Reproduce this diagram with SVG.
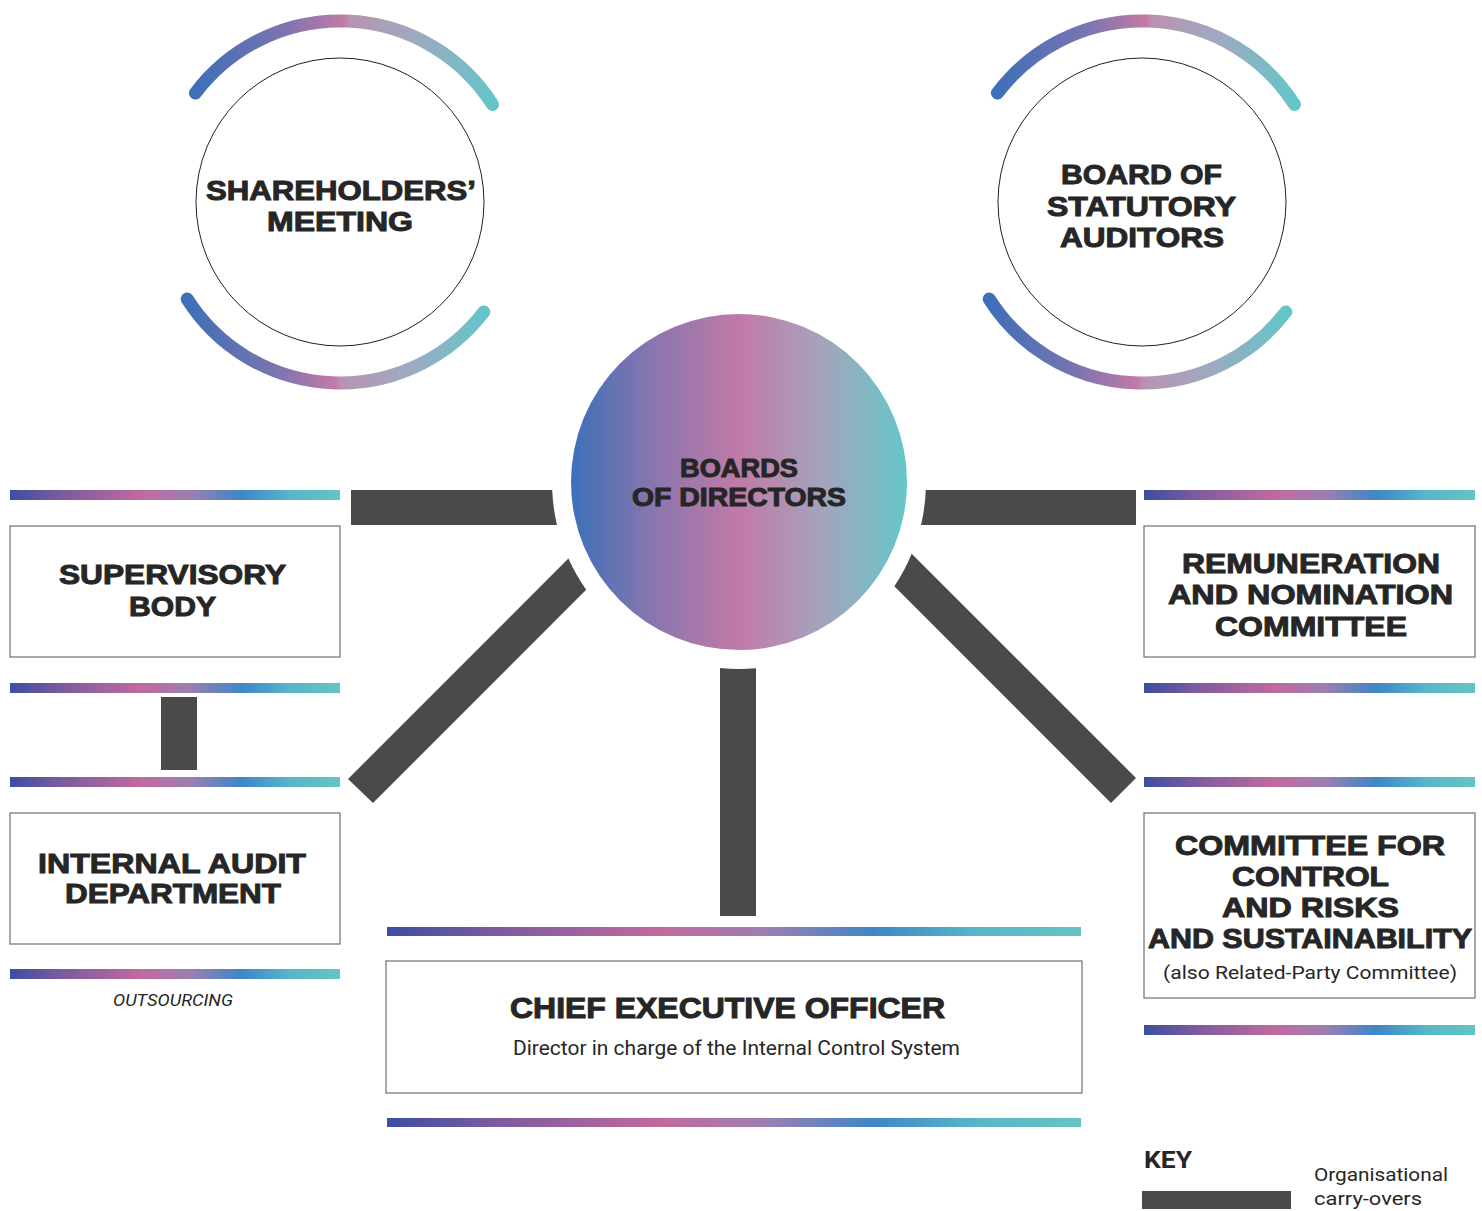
<svg xmlns="http://www.w3.org/2000/svg" width="1482" height="1211" viewBox="0 0 1482 1211">
<defs>
<linearGradient id="arcG" x1="0" y1="0" x2="1" y2="0">
<stop offset="0" stop-color="#3e6fb8"/><stop offset="0.3" stop-color="#7b74b0"/><stop offset="0.5" stop-color="#c27aa6"/><stop offset="0.52" stop-color="#b893b1"/><stop offset="0.75" stop-color="#9eaac0"/><stop offset="1" stop-color="#64c5c8"/>
</linearGradient>
<linearGradient id="bodG" x1="0" y1="0" x2="1" y2="0">
<stop offset="0" stop-color="#3d70b9"/><stop offset="0.25" stop-color="#8a76ae"/><stop offset="0.5" stop-color="#c17aa7"/><stop offset="0.75" stop-color="#a4a4bc"/><stop offset="1" stop-color="#64c7c9"/>
</linearGradient>
<linearGradient id="barG" x1="0" y1="0" x2="1" y2="0">
<stop offset="0" stop-color="#3b4f9f"/><stop offset="0.15" stop-color="#7a5a9e"/><stop offset="0.4" stop-color="#c26a9e"/><stop offset="0.55" stop-color="#9a7fb2"/><stop offset="0.7" stop-color="#3f86c6"/><stop offset="0.85" stop-color="#57b6c8"/><stop offset="1" stop-color="#64c4c4"/>
</linearGradient>
<style>
.arc{fill:none;stroke:url(#arcG);stroke-width:13;stroke-linecap:round}
.ring{fill:#fff;stroke:#222;stroke-width:1}
.box{fill:#fff;stroke:#6e6e6e;stroke-width:1.2}
.bar{fill:url(#barG)}
.con{fill:#4a4a48}
.h{font-family:"Liberation Sans",Arial,sans-serif;font-weight:bold;fill:#262626;stroke:#262626;stroke-width:1}
.s{font-family:Roboto,"Liberation Sans",sans-serif;fill:#262626}
</style>
</defs>
<rect width="1482" height="1211" fill="#fff"/>

<g id="connectors">
<path class="con" d="M351,490 L552.2,490 A187,187 0 0 0 557,525 L351,525 Z"/>
<path class="con" d="M1136,490 L925.8,490 A187,187 0 0 1 921,525 L1136,525 Z"/>
<path class="con" d="M348,779 L568.4,558.6 A187,187 0 0 0 586.2,589.8 L373,803 Z"/>
<path class="con" d="M1136,778 L911.7,553.7 A187,187 0 0 1 894.3,586.3 L1111,803 Z"/>
<path class="con" d="M720,668 A187,187 0 0 0 756,668.2 L756,916 L720,916 Z"/>
<rect class="con" x="161" y="697" width="36" height="73"/>
</g>

<g id="shareholders">
<path class="arc" d="M195.4,93.1 A181,181 0 0 1 492.5,104.5"/>
<path class="arc" d="M187.2,299 A181,181 0 0 0 483.8,311.9"/>
<circle class="ring" cx="340" cy="202" r="144"/>
<text class="h" x="206" y="200" font-size="28" textLength="270" lengthAdjust="spacingAndGlyphs">SHAREHOLDERS’</text>
<text class="h" x="267" y="231" font-size="28" textLength="146" lengthAdjust="spacingAndGlyphs">MEETING</text>
</g>

<g id="statutory-auditors">
<path class="arc" d="M997.4,93.1 A181,181 0 0 1 1294.5,104.5"/>
<path class="arc" d="M989.2,299 A181,181 0 0 0 1285.8,311.9"/>
<circle class="ring" cx="1142" cy="202" r="144"/>
<text class="h" x="1061" y="184" font-size="28" textLength="161" lengthAdjust="spacingAndGlyphs">BOARD OF</text>
<text class="h" x="1047" y="216" font-size="28" textLength="189" lengthAdjust="spacingAndGlyphs">STATUTORY</text>
<text class="h" x="1060" y="247" font-size="28" textLength="164" lengthAdjust="spacingAndGlyphs">AUDITORS</text>
</g>

<g id="board-of-directors">
<circle cx="739" cy="482" r="168" fill="url(#bodG)"/>
<text class="h" x="680" y="477" font-size="25" textLength="118" lengthAdjust="spacingAndGlyphs">BOARDS</text>
<text class="h" x="632" y="506" font-size="25" textLength="214" lengthAdjust="spacingAndGlyphs">OF DIRECTORS</text>
</g>

<g id="supervisory-body">
<rect class="bar" x="10" y="490" width="330" height="10"/>
<rect class="box" x="10" y="526" width="330" height="131"/>
<rect class="bar" x="10" y="683" width="330" height="10"/>
<text class="h" x="59" y="584" font-size="28" textLength="227" lengthAdjust="spacingAndGlyphs">SUPERVISORY</text>
<text class="h" x="129" y="616" font-size="28" textLength="87" lengthAdjust="spacingAndGlyphs">BODY</text>
</g>

<g id="internal-audit">
<rect class="bar" x="10" y="777" width="330" height="10"/>
<rect class="box" x="10" y="813" width="330" height="131"/>
<rect class="bar" x="10" y="969" width="330" height="10"/>
<text class="h" x="38" y="873" font-size="28" textLength="268" lengthAdjust="spacingAndGlyphs">INTERNAL AUDIT</text>
<text class="h" x="65" y="903" font-size="28" textLength="216" lengthAdjust="spacingAndGlyphs">DEPARTMENT</text>
<text class="s" x="113" y="1006" font-size="16" font-style="italic" textLength="120" lengthAdjust="spacingAndGlyphs">OUTSOURCING</text>
</g>

<g id="remuneration-committee">
<rect class="bar" x="1144" y="490" width="331" height="10"/>
<rect class="box" x="1144" y="526" width="331" height="131"/>
<rect class="bar" x="1144" y="683" width="331" height="10"/>
<text class="h" x="1182" y="573" font-size="28" textLength="258" lengthAdjust="spacingAndGlyphs">REMUNERATION</text>
<text class="h" x="1168" y="604" font-size="28" textLength="285" lengthAdjust="spacingAndGlyphs">AND NOMINATION</text>
<text class="h" x="1215" y="636" font-size="28" textLength="192" lengthAdjust="spacingAndGlyphs">COMMITTEE</text>
</g>

<g id="control-risks-committee">
<rect class="bar" x="1144" y="777" width="331" height="10"/>
<rect class="box" x="1144" y="813" width="331" height="185"/>
<rect class="bar" x="1144" y="1025" width="331" height="10"/>
<text class="h" x="1175" y="855" font-size="28" textLength="270" lengthAdjust="spacingAndGlyphs">COMMITTEE FOR</text>
<text class="h" x="1232" y="886" font-size="28" textLength="157" lengthAdjust="spacingAndGlyphs">CONTROL</text>
<text class="h" x="1222" y="917" font-size="28" textLength="177" lengthAdjust="spacingAndGlyphs">AND RISKS</text>
<text class="h" x="1148" y="948" font-size="28" textLength="324" lengthAdjust="spacingAndGlyphs">AND SUSTAINABILITY</text>
<text class="s" x="1163" y="979" font-size="19" textLength="294" lengthAdjust="spacingAndGlyphs">(also Related-Party Committee)</text>
</g>

<g id="ceo">
<rect class="bar" x="387" y="927" width="694" height="9"/>
<rect class="box" x="386" y="961" width="696" height="132"/>
<rect class="bar" x="387" y="1118" width="694" height="9"/>
<text class="h" x="510" y="1018" font-size="29" stroke-width="0.6" textLength="435" lengthAdjust="spacingAndGlyphs">CHIEF EXECUTIVE OFFICER</text>
<text class="s" x="513" y="1055" font-size="20" textLength="447" lengthAdjust="spacingAndGlyphs">Director in charge of the Internal Control System</text>
</g>

<g id="key">
<text class="s" x="1144" y="1168" font-size="24" font-weight="bold" textLength="48" lengthAdjust="spacingAndGlyphs">KEY</text>
<rect class="con" x="1142" y="1191" width="149" height="18"/>
<text class="s" x="1314" y="1181" font-size="19" textLength="134" lengthAdjust="spacingAndGlyphs">Organisational</text>
<text class="s" x="1314" y="1205" font-size="19" textLength="108" lengthAdjust="spacingAndGlyphs">carry-overs</text>
</g>
</svg>
